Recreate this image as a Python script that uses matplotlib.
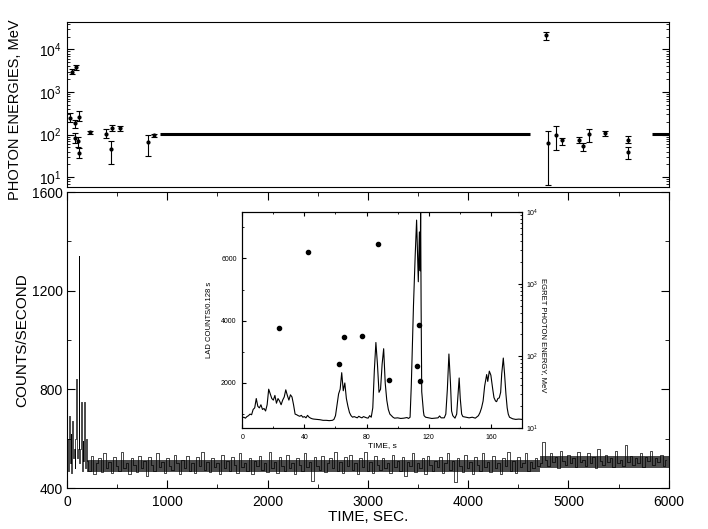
import numpy as np
import matplotlib
matplotlib.use("Agg")
import matplotlib.pyplot as plt
from matplotlib.ticker import MultipleLocator, LogLocator, NullFormatter

plt.rcParams['font.family'] = ['Liberation Sans', 'DejaVu Sans']

# ---- top panel: EGRET photon energies (s, MeV) ----
phot_t = [50, 90, 33, 83, 123, 76, 112, 118, 233, 392, 449, 439, 532, 808, 864,
          4773, 4799, 4875, 4938, 5105, 5141, 5207, 5364, 5590, 5590]
phot_e = [3000, 3800, 247, 188, 257, 83, 69, 37, 113, 105, 143, 46, 143, 66, 96,
          21400, 63, 100, 73, 76, 53, 104, 109, 76, 40]
phot_lo = [2600, 3300, 195, 143, 207, 62, 52, 29, 103, 83, 120, 21, 120, 32, 88,
           16900, 6.5, 44, 58, 63, 42, 66, 95, 63, 27]
phot_hi = [3450, 4400, 315, 226, 355, 109, 88, 48, 124, 136, 172, 69, 163, 100, 105,
           25700, 120, 158, 83, 86, 63, 139, 124, 95, 51]
# time spans covered by the 100 MeV bar
bar_start = [927, 5833]
bar_end = [4616, 6000]
bar_level = 105

# ---- bottom panel: counts/second ----
burst_rate = [520, 600, 470, 690, 500, 620, 460, 670, 520, 560, 480, 600, 840,
              520, 560, 1340, 500, 560, 750, 470, 590, 510, 750, 480, 600]
rest_rate = [
    510, 470, 530, 455, 500, 520, 465, 540, 480, 505, 460, 525, 490, 470, 545, 480, 500, 455, 520, 495,
    465, 530, 480, 510, 450, 525, 495, 470, 540, 485, 505, 460, 520, 490, 475, 535, 500, 455, 515, 480,
    530, 470, 500, 460, 525, 490, 545, 475, 505, 465, 520, 485, 500, 455, 535, 480, 510, 470, 525, 495,
    460, 540, 485, 500, 470, 520, 455, 510, 490, 530, 475, 500, 465, 545, 480, 505, 460, 525, 490, 470,
    535, 480, 500, 455, 520, 495, 470, 540, 485, 505, 430, 525, 490, 475, 530, 465, 500, 520, 480, 545,
    470, 505, 460, 525, 490, 535, 475, 500, 455, 520, 485, 545, 470, 505, 460, 530, 495, 475, 520, 480,
    500, 460, 535, 485, 510, 470, 525, 450, 505, 490, 540, 465, 500, 480, 520, 455, 530, 495, 470, 510,
    485, 525, 460, 500, 540, 475, 510, 425, 520, 490, 465, 535, 480, 505, 455, 525, 495, 470, 540, 485,
    505, 465, 530, 480, 500, 455, 520, 490, 545, 470, 510, 460, 525, 485, 500, 540, 470, 505, 480, 520,
    490, 500, 585, 515, 490, 540, 505, 525, 480, 550, 510, 495, 535, 500, 520, 485, 545, 505, 515, 490,
    540, 500, 525, 480, 560, 510, 495, 535, 505, 520, 485, 550, 500, 515, 490, 575, 505, 530, 495, 520,
    500, 540, 485, 525, 510, 550, 495, 520, 505, 535, 490, 515]
# dense core of the count-rate band (s, counts/s)
band_t = [200, 4720, 4720, 6000]
band_lo = [465, 465, 482, 482]
band_hi = [512, 512, 528, 528]

# ---- inset: LAD light curve and photon energies ----
lad_t = [0, 1, 2, 3, 4, 5, 6, 7, 8, 9, 10, 11, 12, 13, 14, 15, 16, 17, 18, 19,
         20, 21, 22, 23, 24, 25, 26, 27, 28, 29, 30, 31, 32, 33, 34, 35, 36, 37, 38, 39,
         40, 41, 42, 43, 44, 45, 46, 48, 50, 52, 54, 56, 58, 59, 60, 61, 62, 63, 64, 65,
         66, 67, 68, 69, 70, 71, 72, 74, 75, 76, 77, 78, 79, 80, 81, 82, 83, 84, 85, 86,
         87, 88, 89, 90, 91, 92, 93, 94, 95, 96, 97, 98, 100, 102, 104, 106, 107, 108, 108.8, 110.2,
         111.3, 112.2, 113.3, 114.0, 114.5, 114.8, 115.1, 115.5, 116.6, 117, 118, 120, 122, 124, 126, 127, 128, 130, 131, 132,
         133, 134, 134.7, 135.5, 136.9, 138, 139, 139.6, 140.3, 141.2, 142, 144, 146, 148, 150, 152, 153, 154, 155, 156,
         157.3, 158, 159, 160, 160.5, 161.2, 162, 163, 163.7, 164.5, 165.4, 166.3, 167, 168, 168.8, 169.7, 170.5, 171.2, 172, 174,
         176, 178, 180]
lad_counts = [880, 900, 870, 920, 950, 1000, 980, 1150, 1200, 1500, 1250, 1200, 1300, 1150, 1180, 1100, 1300, 1800, 1650, 1500,
              1450, 1600, 1350, 1500, 1420, 1300, 1450, 1550, 1780, 1600, 1450, 1620, 1550, 1300, 1000, 980, 950, 930, 960, 900,
              920, 880, 960, 900, 870, 850, 840, 830, 820, 800, 800, 790, 800, 830, 950, 1300, 1650, 1800, 2330, 1750,
              2000, 1500, 1250, 1050, 950, 900, 920, 880, 930, 900, 880, 920, 900, 880, 870, 950, 900, 1200, 2400, 3300,
              2600, 1700, 1800, 2600, 3100, 2000, 1450, 1150, 1000, 950, 900, 870, 880, 860, 870, 890, 860, 900, 1940, 4500,
              6100, 7230, 5250, 6850, 5600, 7600, 4500, 1720, 1080, 950, 900, 880, 860, 870, 880, 940, 880, 880, 1000, 1800,
              2930, 2000, 1100, 950, 870, 1000, 1700, 2160, 1500, 1000, 920, 900, 880, 900, 870, 950, 1050, 1200, 1420, 1900,
              2270, 2050, 2380, 2250, 2060, 1800, 1530, 1420, 1400, 1500, 1520, 1700, 2300, 2800, 2300, 1640, 1200, 1000, 900, 850,
              830, 840, 830]
egret_t = [23.8, 42.5, 62.0, 65.6, 77.2, 87.1, 94.2, 112.4, 113.7, 114.3]
egret_e = [242, 2800, 77, 183, 189, 3550, 46, 73, 272, 45]

fig = plt.figure(figsize=(7.08, 5.29), dpi=100)

# top panel
ax_top = fig.add_axes([0.0946, 0.6465, 0.850, 0.312])
yerr = [np.array(phot_e) - np.array(phot_lo), np.array(phot_hi) - np.array(phot_e)]
ax_top.errorbar(phot_t, phot_e, yerr=yerr, fmt='o', ms=2, color='k',
                ecolor='k', elinewidth=0.8, capsize=2.5, capthick=0.8)
ax_top.hlines([bar_level] * len(bar_start), bar_start, bar_end, colors='k', lw=2.2)
ax_top.set_yscale('log')
ax_top.set_xlim(0, 6000)
ax_top.set_ylim(5.9, 4.4e4)
ax_top.set_xticks([])
ax_top.set_yticks([10, 100, 1000, 10000])
ax_top.yaxis.set_minor_locator(LogLocator(base=10, subs=np.arange(2, 10)))
ax_top.yaxis.set_minor_formatter(NullFormatter())
ax_top.tick_params(axis='y', which='both', direction='in', right=True, labelsize=10, pad=4)
ax_top.tick_params(axis='y', which='major', length=5)
ax_top.tick_params(axis='y', which='minor', length=2.5)
ax_top.set_ylabel('PHOTON ENERGIES, MeV', fontsize=10.5)
ax_top.yaxis.set_label_coords(-0.075, 0.47)

# bottom panel
ax = fig.add_axes([0.0946, 0.0775, 0.850, 0.5595])
rate_t = np.concatenate([np.arange(0, 200, 8), np.arange(200, 6000, 25)])
rate = np.array(burst_rate + rest_rate)
ax.fill_between(band_t, band_lo, band_hi, color='k', alpha=0.7, lw=0)
ax.plot(rate_t, rate, color='k', lw=0.5, drawstyle='steps-mid')
ax.set_xlim(0, 6000)
ax.set_ylim(400, 1600)
ax.xaxis.set_major_locator(MultipleLocator(1000))
ax.xaxis.set_minor_locator(MultipleLocator(500))
ax.yaxis.set_major_locator(MultipleLocator(400))
ax.yaxis.set_minor_locator(MultipleLocator(200))
ax.tick_params(which='both', direction='in', top=True, right=True, labelsize=10)
ax.tick_params(which='major', length=6)
ax.tick_params(which='minor', length=3)
ax.tick_params(axis='x', pad=5)
ax.tick_params(axis='y', pad=3)
ax.set_xlabel('TIME, SEC.', fontsize=11, labelpad=1)
ax.set_ylabel('COUNTS/SECOND', fontsize=11)
ax.yaxis.set_label_coords(-0.062, 0.5)

# inset
axi = fig.add_axes([0.3422, 0.191, 0.395, 0.408])
axi.plot(lad_t, lad_counts, color='k', lw=0.8)
axi.set_xlim(0, 180)
axi.set_ylim(555, 7486)
axi.xaxis.set_major_locator(MultipleLocator(40))
axi.xaxis.set_minor_locator(MultipleLocator(20))
axi.yaxis.set_major_locator(MultipleLocator(2000))
axi.yaxis.set_minor_locator(MultipleLocator(1000))
axi.tick_params(which='both', direction='in', top=True, labelsize=5)
axi.tick_params(which='major', length=3, pad=4)
axi.tick_params(which='minor', length=1.5)
axi.set_xlabel('TIME, s', fontsize=6, labelpad=1)
axi.set_ylabel('LAD COUNTS/0.128 s', fontsize=5.5, labelpad=6)

axr = axi.twinx()
axr.plot(egret_t, egret_e, 'o', color='k', ms=3)
axr.set_yscale('log')
axr.set_ylim(10, 1e4)
axr.yaxis.set_minor_locator(LogLocator(base=10, subs=np.arange(2, 10)))
axr.yaxis.set_minor_formatter(NullFormatter())
axr.tick_params(which='both', direction='in', labelsize=5)
axr.tick_params(which='major', length=3, pad=3)
axr.tick_params(which='minor', length=1.5)
axr.set_ylabel('EGRET PHOTON ENERGY, MeV', fontsize=5.5, rotation=270)
axr.yaxis.set_label_coords(1.09, 0.43)

fig.savefig('out.png', dpi=100)
